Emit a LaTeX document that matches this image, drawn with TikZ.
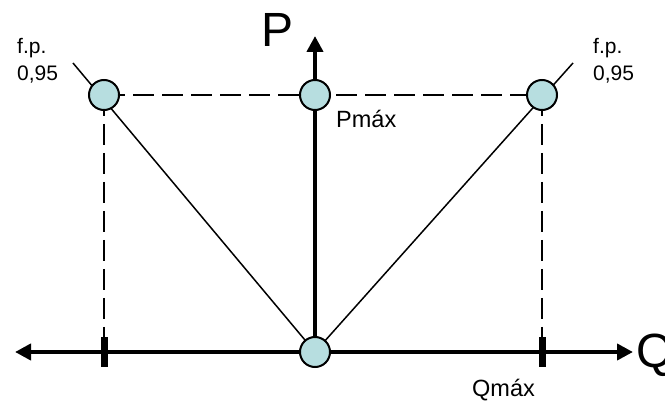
\documentclass[tikz,border=0pt]{standalone}
\usepackage{fontspec}
\setmainfont{Liberation Sans}
\usetikzlibrary{arrows.meta}
\definecolor{dotfill}{RGB}{183,222,224}
\tikzset{
  dot/.style={circle,draw=black,line width=2pt,fill=dotfill,minimum size=30pt,inner sep=0pt},
  axis/.style={line width=4pt,-{Triangle[length=16pt,width=16pt]}},
  thin line/.style={line width=1.5pt},
  guide/.style={line width=2pt,dash pattern=on 21pt off 8pt},
  tickbar/.style={line width=7pt},
  lbl/.style={font=\fontsize{21}{25}\selectfont,inner sep=0pt},
  lblb/.style={font=\fontsize{23.5}{27}\selectfont,inner sep=0pt},
  big/.style={font=\fontsize{48}{54}\selectfont,inner sep=0pt}
}
\begin{document}
\begin{tikzpicture}[x=1pt,y=-1pt]
\useasboundingbox (0,0) rectangle (665,401);
% coordinates
\coordinate (O) at (315,352);
\coordinate (Ltip) at (15,352);
\coordinate (Rtip) at (633,352);
\coordinate (Ptip) at (315,36);
\coordinate (lend) at (73,63);
\coordinate (rend) at (573,63);
\coordinate (tl1) at (104,337);
\coordinate (tl2) at (104,367);
\coordinate (tr1) at (542,337);
\coordinate (tr2) at (542,367);
\coordinate (L) at (104,95);
\coordinate (M) at (315,95);
\coordinate (R) at (542,95);
% guides
\draw[guide] (L) -- (R);
\draw[guide] (L) -- (tl1);
\draw[guide] (R) -- (tr1);
% diagonals
\draw[thin line] (O) -- (lend);
\draw[thin line] (O) -- (rend);
% axes
\draw[axis] (O) -- (Ltip);
\draw[axis] (O) -- (Rtip);
\draw[axis] (O) -- (Ptip);
% ticks
\draw[tickbar] (tl1) -- (tl2);
\draw[tickbar] (tr1) -- (tr2);
% dots
\node[dot] (nL) at (L) {};
\node[dot] (nM) at (M) {};
\node[dot] (nR) at (R) {};
\node[dot] (nO) at (O) {};
% labels
\node[lbl,anchor=base west] (fp1) at (17,54) {f.p.};
\node[lbl,anchor=base west] (v1) at (17,81) {0,95};
\node[lbl,anchor=base west] (fp2) at (593,54) {f.p.};
\node[lbl,anchor=base west] (v2) at (593,81) {0,95};
\node[lblb,anchor=base west] (pmax) at (336,128) {Pmáx};
\node[lblb,anchor=base west] (qmax) at (472,396) {Qmáx};
\node[big,anchor=base west] (Plab) at (261,47) {P};
\node[big,anchor=base west] (Qlab) at (636,367) {Q};
\end{tikzpicture}
\end{document}
